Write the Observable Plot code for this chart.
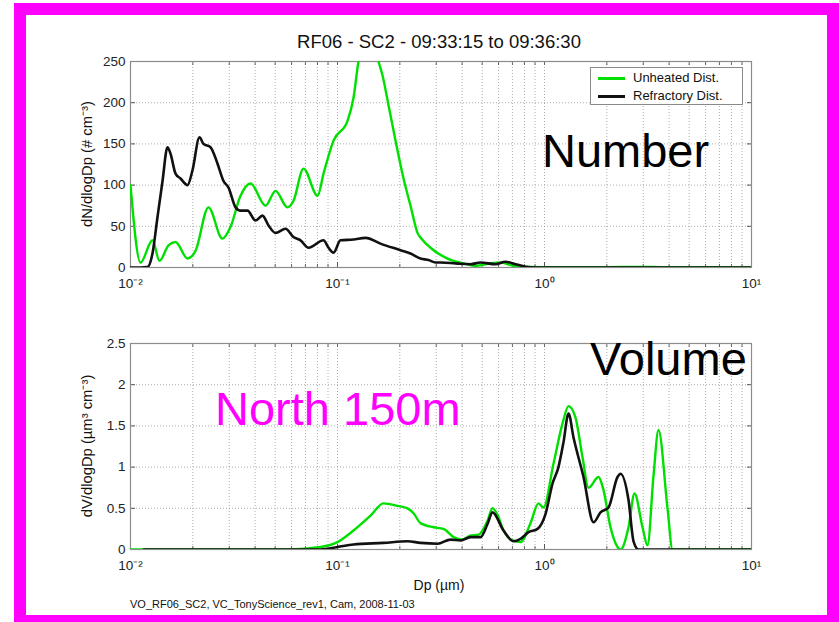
<!DOCTYPE html>
<html><head><meta charset="utf-8">
<script src="https://cdn.jsdelivr.net/npm/d3@7"></script>
<script src="https://cdn.jsdelivr.net/npm/@observablehq/plot@0.6"></script>
<style>
body{margin:0;background:#fff;font-family:"Liberation Sans",Arial,sans-serif;}
#page{position:relative;width:839px;height:622px;overflow:hidden;background:#fff;}
#frame{position:absolute;left:14px;top:3px;width:825px;height:624px;box-sizing:border-box;border:12px solid #ff00ff;z-index:5;pointer-events:none;}
.panel{position:absolute;left:0;}
.lbl{position:absolute;white-space:nowrap;line-height:1;z-index:3;}
#legend{position:absolute;left:590px;top:67px;width:153px;height:38px;box-sizing:border-box;border:1px solid #8a8a8a;background:#fff;z-index:4;font-size:13px;color:#111;white-space:nowrap;}
.row{position:absolute;left:7px;height:14px;width:140px;}
.sw{position:absolute;left:0;top:6px;width:27px;height:3px;}
.row span{position:absolute;left:35px;top:0;line-height:14px;white-space:nowrap;}
</style></head>
<body>
<div id="page">
  <div id="frame"></div>
  <div id="top" class="panel" style="top:0"></div>
  <div id="bottom" class="panel" style="top:300px"></div>
  <div id="legend">
    <div class="row" style="top:3px"><div class="sw" style="background:#00e000"></div><span id="lg0"></span></div>
    <div class="row" style="top:21px"><div class="sw" style="background:#111"></div><span id="lg1"></span></div>
  </div>
</div>
<script>
// ---- data ----
const dpNumUnheated = [0.0100,0.01118,0.01277,0.01381,0.01526,0.0165,0.01886,0.0206,0.0238,0.0278,0.0304,0.0340,0.0380,0.0449,0.0502,0.0573,0.0613,0.0685,0.0801,0.0856,0.0957,0.1118,0.1195,0.1263,0.1335,0.1412,0.1493,0.1578,0.165,0.1764,0.1906,0.2084,0.2253,0.2435,0.2546,0.2814,0.3325,0.3635,0.3929,0.464,0.548,0.613,0.685,0.766,0.957,1.865,2.91,3.84,10];
const numUnheated = [100,6,33,8,27,31,11,20,73,35,49,87,102,75,93,73,81,120,87,114,154,178,206,250,272,282,272,250,233,197,154,108,75,42,35,24,12,8,6,2,5,6,3,1,0.5,0.3,0.8,0.3,0.2];

const dpNumRefractory = [0.0100,0.01118,0.01208,0.01277,0.0135,0.01428,0.01509,0.01561,0.0165,0.01744,0.01886,0.01993,0.02154,0.02252,0.02435,0.02633,0.02814,0.02975,0.03216,0.0340,0.03675,0.04018,0.04342,0.04642,0.0502,0.05609,0.0613,0.06625,0.07244,0.0856,0.0905,0.0957,0.1034,0.1195,0.1366,0.1613,0.2015,0.2253,0.2518,0.2752,0.2975,0.3145,0.3715,0.4391,0.4907,0.580,0.648,0.7244,0.8095,0.905,10];
const numRefractory = [0,0,0.5,17,61,105,146,138,114,108,100,118,158,150,146,126,105,97,73,69,69,57,63,51,42,47,37,33,24,33,24,18,33,34,36,29,21,17,11,9,6,6,5,4,6,4,7,4,1,0,0];

const dpVolUnheated = [0.0100,0.0593,0.0828,0.1000,0.1195,0.1444,0.1668,0.195,0.2179,0.2329,0.2518,0.2909,0.3251,0.3635,0.4018,0.4391,0.48,0.5304,0.5607,0.593,0.634,0.7005,0.766,0.8557,0.9355,0.989,1.105,1.222,1.306,1.412,1.526,1.632,1.824,1.928,2.084,2.253,2.329,2.546,2.722,2.975,3.145,3.363,3.554,3.929,4.154,10];
const volUnheated = [0,0,0.03,0.09,0.23,0.41,0.56,0.53,0.50,0.44,0.32,0.27,0.25,0.15,0.12,0.17,0.18,0.35,0.50,0.42,0.23,0.11,0.09,0.32,0.56,0.51,1.04,1.53,1.74,1.6,1.12,0.75,0.88,0.72,0.27,0.03,0,0.27,0.68,0.27,0.05,0.9,1.45,0.5,0,0];

const dpVolRefractory = [0.0116,0.0828,0.1000,0.1195,0.1668,0.2179,0.2518,0.3042,0.3515,0.3929,0.4391,0.4907,0.5304,0.5607,0.634,0.7083,0.766,0.837,0.9252,1.011,1.093,1.168,1.235,1.306,1.381,1.543,1.725,1.865,2.038,2.253,2.329,2.546,2.692,2.845,10];
const volRefractory = [0,0,0.03,0.06,0.08,0.10,0.08,0.07,0.12,0.11,0.15,0.15,0.31,0.45,0.23,0.10,0.13,0.21,0.25,0.43,0.8,1.0,1.3,1.65,1.36,0.88,0.33,0.45,0.51,0.88,0.92,0.6,0.1,0,0];

const xMajorTicks = [0.01, 0.1, 1, 10];
const xMajorLabels = ["10\u207B\u00B2", "10\u207B\u00B9", "10\u2070", "10\u00B9"];
const yTicksNumber = [0, 50, 100, 150, 200, 250];
const yLabelsNumber = ["0", "50", "100", "150", "200", "250"];
const yTicksVolume = [0, 0.5, 1, 1.5, 2, 2.5];
const yLabelsVolume = ["0", "0.5", "1", "1.5", "2", "2.5"];
const seriesNames = ["Unheated Dist.", "Refractory Dist."];

const titleText = "RF06 - SC2 - 09:33:15 to 09:36:30";
const yLabelNumber = "dN/dlogDp (# cm\u207B\u00B3)";
const yLabelVolume = "dV/dlogDp (\u00B5m\u00B3 cm\u207B\u00B3)";
const xLabelText = "Dp (\u00B5m)";
const captionText = "VO_RF06_SC2, VC_TonyScience_rev1, Cam, 2008-11-03";

// ---- helpers ----
const GREEN = "#00e000", BLACK = "#111111";
const minorTicks = [];
for (const e of [-2, -1, 0]) for (let m = 1; m <= 9; m++) minorTicks.push(+(m * Math.pow(10, e)).toPrecision(3));
minorTicks.push(10);

const rows = (xs, ys) => xs.map((dp, i) => ({dp, v: ys[i]}));

function panel({unheated, refractory, yDomain, yTicks, yTickLabels, marginTop, marginBottom}) {
  const xFmt = new Map(xMajorTicks.map((d, i) => [d, xMajorLabels[i]]));
  const yFmt = new Map(yTicks.map((d, i) => [d, yTickLabels[i]]));
  const grid = {stroke: "#9a9a9a", strokeOpacity: 0.8, strokeDasharray: "1,2", strokeWidth: 1};
  return Plot.plot({
    width: 839, height: 300,
    marginLeft: 130, marginRight: 88, marginTop, marginBottom,
    x: {type: "log", domain: [0.01, 10], label: null},
    y: {domain: yDomain, label: null},
    style: {fontFamily: "'Liberation Sans', Arial, sans-serif", fontSize: "13px", color: "#222", background: "transparent", overflow: "visible"},
    marks: [
      Plot.gridX(minorTicks, grid),
      Plot.gridY(yTicks, grid),
      Plot.axisX(minorTicks, {anchor: "bottom", tickSize: -3, tickFormat: () => "", label: null, stroke: "#666"}),
      Plot.axisX(minorTicks, {anchor: "top", tickSize: -3, tickFormat: () => "", label: null, stroke: "#666"}),
      Plot.axisX(xMajorTicks, {anchor: "bottom", tickSize: -5, tickPadding: 16, tickFormat: d => xFmt.get(d), label: null, stroke: "#555", fontSize: 13.5}),
      Plot.axisY(yTicks, {anchor: "left", tickSize: -5, tickPadding: 10, tickFormat: d => yFmt.get(d), label: null, stroke: "#555", fontSize: 13.5}),
      Plot.axisY(yTicks, {anchor: "right", tickSize: -5, tickFormat: () => "", label: null, stroke: "#555"}),
      Plot.frame({stroke: "#8c8c8c", strokeWidth: 1.2}),
      Plot.lineY(unheated, {x: "dp", y: "v", stroke: GREEN, strokeWidth: 2.4, curve: "monotone-x", clip: true, title: () => seriesNames[0]}),
      Plot.lineY(refractory, {x: "dp", y: "v", stroke: BLACK, strokeWidth: 2.6, curve: "monotone-x", clip: true, title: () => seriesNames[1]})
    ]
  });
}

document.getElementById("top").append(panel({
  unheated: rows(dpNumUnheated, numUnheated),
  refractory: rows(dpNumRefractory, numRefractory),
  yDomain: [0, 250], yTicks: yTicksNumber, yTickLabels: yLabelsNumber,
  marginTop: 61, marginBottom: 33
}));
document.getElementById("bottom").append(panel({
  unheated: rows(dpVolUnheated, volUnheated),
  refractory: rows(dpVolRefractory, volRefractory),
  yDomain: [0, 2.5], yTicks: yTicksVolume, yTickLabels: yLabelsVolume,
  marginTop: 43, marginBottom: 51
}));
document.getElementById("lg0").textContent = seriesNames[0];
document.getElementById("lg1").textContent = seriesNames[1];

// ---- text annotations (HTML, placed by baseline) ----
const page = document.getElementById("page");
function label(text, {x, baseline, size, color = "#000", anchor = "start"}) {
  const d = document.createElement("div");
  d.className = "lbl";
  d.textContent = text;
  d.style.fontSize = size + "px";
  d.style.color = color;
  d.style.top = (baseline - 0.8465 * size) + "px";
  d.style.left = x + "px";
  if (anchor === "middle") d.style.transform = "translateX(-50%)";
  page.append(d);
}
function vlabel(text, {cx, cy, size, color = "#111"}) {
  const d = document.createElement("div");
  d.className = "lbl";
  d.textContent = text;
  d.style.fontSize = size + "px";
  d.style.color = color;
  d.style.left = cx + "px";
  d.style.top = cy + "px";
  d.style.transform = "translate(-50%,-50%) rotate(-90deg)";
  page.append(d);
}
label(titleText, {x: 439, baseline: 49, size: 18.5, color: "#111", anchor: "middle"});
label("Number", {x: 542, baseline: 167, size: 47});
label("Volume", {x: 590, baseline: 375, size: 47});
label("North 150m", {x: 215, baseline: 425, size: 47, color: "#ff00ff"});
label(xLabelText, {x: 439, baseline: 590, size: 14, color: "#111", anchor: "middle"});
label(captionText, {x: 130, baseline: 608, size: 11, color: "#111"});
vlabel(yLabelNumber, {cx: 87, cy: 164, size: 14.8});
vlabel(yLabelVolume, {cx: 87, cy: 446, size: 14.8});
</script>
</body></html>
